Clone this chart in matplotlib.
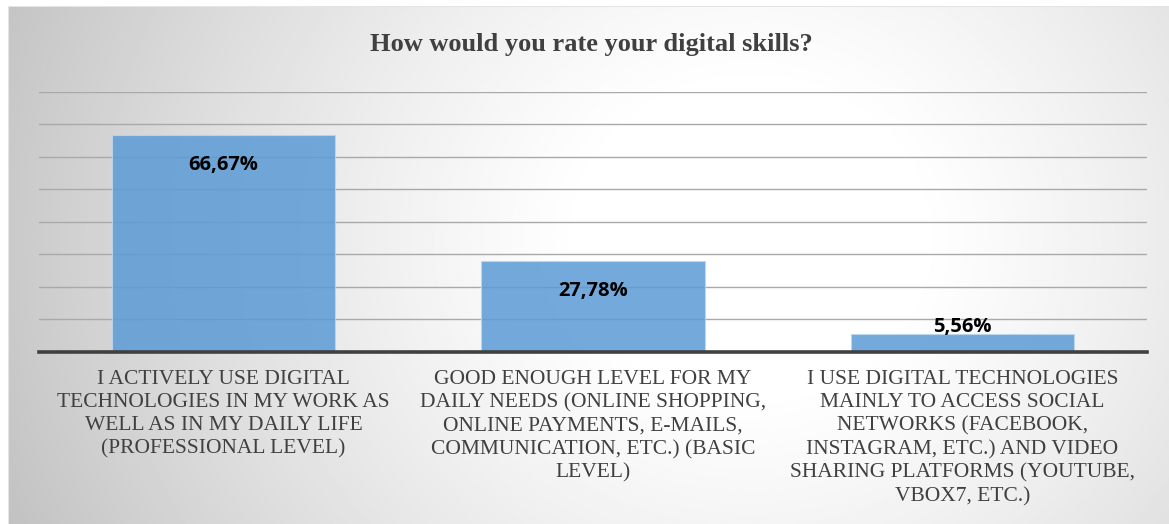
import numpy as np
import matplotlib
matplotlib.use("Agg")
import matplotlib.pyplot as plt

title = "How would you rate your digital skills?"
categories = [
    "I ACTIVELY USE DIGITAL\nTECHNOLOGIES IN MY WORK AS\nWELL AS IN MY DAILY LIFE\n(PROFESSIONAL LEVEL)",
    "GOOD ENOUGH LEVEL FOR MY\nDAILY NEEDS (ONLINE SHOPPING,\nONLINE PAYMENTS, E-MAILS,\nCOMMUNICATION, ETC.) (BASIC\nLEVEL)",
    "I USE DIGITAL TECHNOLOGIES\nMAINLY TO ACCESS SOCIAL\nNETWORKS (FACEBOOK,\nINSTAGRAM, ETC.) AND VIDEO\nSHARING PLATFORMS (YOUTUBE,\nVBOX7, ETC.)",
]
values = [66.67, 27.78, 5.56]
value_labels = ["66,67%", "27,78%", "5,56%"]

W, H = 1169, 524
fig = plt.figure(figsize=(W / 100, H / 100), dpi=100)
fig.patch.set_facecolor("white")

# radial gradient background of the chart area
bg = fig.add_axes([8 / W, 0, 1 - 8 / W, 1 - 6 / H])
bg.set_axis_off()
yy, xx = np.mgrid[0:1:300j, 0:1:600j]
d = np.sqrt(((xx - 0.64) / 0.64) ** 2 + ((yy - 0.55) / 1.3) ** 2)
shade = np.clip(1.03 - 0.24 * d ** 1.4, 0.76, 1.0)
bg.imshow(shade, cmap="gray", vmin=0, vmax=1, aspect="auto",
          extent=[0, 1, 0, 1], origin="lower")
bg.plot([0, 1], [1, 1], color="#e4e4e4", lw=1.5, transform=bg.transAxes)
bg.plot([0, 0], [0, 1], color="#e4e4e4", lw=1.5, transform=bg.transAxes)

ax = fig.add_axes([39 / W, 1 - 351.7 / H, (1147 - 39) / W, (351.7 - 91.7) / H])
ax.patch.set_alpha(0)
x = np.arange(len(categories))
bars = ax.bar(x, values, width=0.604, color="#5b9bd5", alpha=0.85,
              edgecolor="#bdd7ee", linewidth=0.8, zorder=3)
ax.set_xlim(-0.5, len(categories) - 0.5)
ax.set_ylim(0, 80)
ax.set_yticks(np.arange(0, 81, 10))
ax.yaxis.grid(True, color="#a9a9a9", lw=1.0, zorder=0)
ax.set_axisbelow(True)
ax.tick_params(axis="y", length=0, labelleft=False)
ax.set_xticks(x)
ax.tick_params(axis="x", length=0, labelbottom=False)
for s in ["top", "right", "left"]:
    ax.spines[s].set_visible(False)
ax.spines["bottom"].set_color("#404040")
ax.spines["bottom"].set_linewidth(2.6)
ax.spines["bottom"].set_zorder(5)

# category labels under the axis
for xi, cat in zip(x, categories):
    ax.annotate(cat, (xi, 0), xycoords=("data", "axes fraction"),
                xytext=(0, -13), textcoords="offset points",
                ha="center", va="top", multialignment="center",
                family="Liberation Serif", fontsize=15.5, color="#404040",
                linespacing=1.3)

for xi, v, lab in zip(x, values, value_labels):
    if v > 10:
        off = -21.5
    else:
        off = 4.5
    ax.annotate(lab, (xi, v), xytext=(0, off), textcoords="offset points",
                ha="center", va="center", fontsize=14.5, fontweight="bold",
                family="Open Sans", color="black", zorder=6)

fig.text(591 / W, 1 - 45 / H, title, ha="center", va="center",
         family="Liberation Serif", fontweight="bold", fontsize=19,
         color="#404040")

fig.savefig("out.png", dpi=100)
